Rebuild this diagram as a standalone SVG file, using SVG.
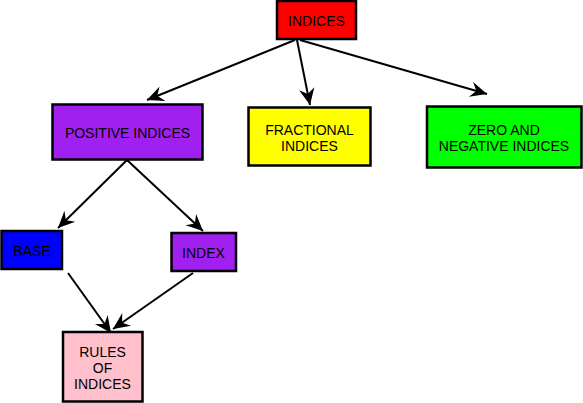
<svg xmlns="http://www.w3.org/2000/svg" width="583" height="403" viewBox="0 0 583 403">
<style>
rect.n{stroke:#000;stroke-width:2.5}
text{font-family:"Liberation Sans",Arial,sans-serif;font-size:14px;fill:#000;text-anchor:middle}
.c line{stroke:#000;stroke-width:2;marker-end:url(#ah)}
</style>
<defs>
<marker id="ah" markerUnits="userSpaceOnUse" markerWidth="20" markerHeight="20" viewBox="-16 -8 18 16" refX="0" refY="0" orient="auto">
<path d="M0,0 L-15,-7 L-10,0 L-15,7 Z" fill="#000"/>
</marker>
</defs>
<rect width="583" height="403" fill="#fff"/>
<g class="c" id="connectors">
<line x1="295" y1="40" x2="147" y2="100"/>
<line x1="297" y1="40" x2="310" y2="105"/>
<line x1="300" y1="40" x2="487" y2="94"/>
<line x1="127" y1="160" x2="58" y2="228"/>
<line x1="127" y1="160" x2="203" y2="231"/>
<line x1="68" y1="273" x2="111" y2="333"/>
<line x1="193" y1="273" x2="113" y2="329"/>
</g>
<g id="indices"><rect class="n" x="277" y="1" width="79" height="38" fill="#ff0000"/><text x="316.5" y="26">INDICES</text></g>
<g id="positive"><rect class="n" x="52.5" y="104.5" width="150" height="55" fill="#a020f0"/><text x="127.5" y="138">POSITIVE INDICES</text></g>
<g id="fractional"><rect class="n" x="248.5" y="107.5" width="122" height="58" fill="#ffff00"/><text x="309.5" y="134.5">FRACTIONAL</text><text x="309.5" y="150.5">INDICES</text></g>
<g id="zero"><rect class="n" x="427" y="106.5" width="154.5" height="61" fill="#00ff00"/><text x="504" y="134.5">ZERO AND</text><text x="504" y="150.5">NEGATIVE INDICES</text></g>
<g id="base"><rect class="n" x="1.5" y="231" width="60.5" height="38" fill="#0000ff"/><text x="32" y="256">BASE</text></g>
<g id="index"><rect class="n" x="171.5" y="233" width="64.5" height="38" fill="#a020f0"/><text x="203.5" y="258">INDEX</text></g>
<g id="rules"><rect class="n" x="63" y="332" width="79.5" height="69.5" fill="#ffc0cb"/><text x="102.5" y="357">RULES</text><text x="102.5" y="373">OF</text><text x="102.5" y="389">INDICES</text></g>
</svg>
